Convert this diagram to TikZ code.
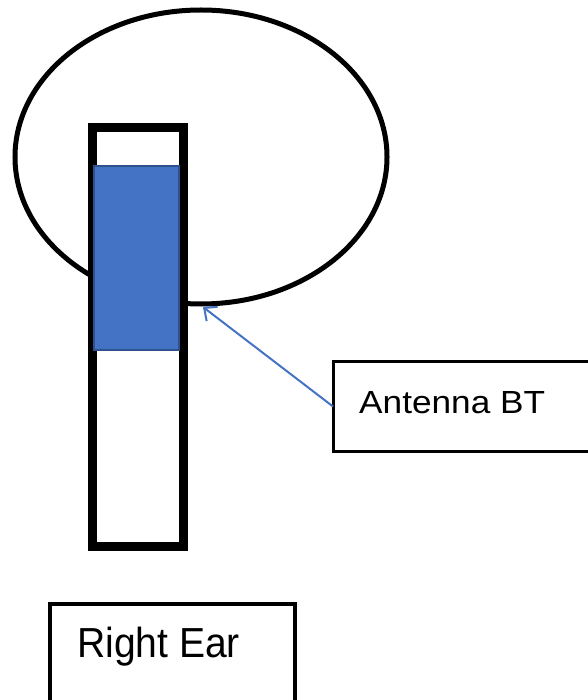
\documentclass[tikz,border=0pt]{standalone}
\usepackage{fontspec}
\setmainfont{Liberation Sans}
\usetikzlibrary{arrows.meta}
\definecolor{accent}{HTML}{4472C4}
\definecolor{accentdark}{HTML}{2F528F}
\tikzset{
  box/.style={draw=black, rectangle, inner sep=0pt, outer sep=0pt},
  label/.style={anchor=base west, inner sep=0pt, text=black},
  pointer/.style={draw=accent, line width=2pt, -{Straight Barb[length=10pt,width=18pt]}}
}
\begin{document}
\begin{tikzpicture}[x=1pt,y=-1pt]
\useasboundingbox (0,0) rectangle (587,700);
% head outline
\draw[line width=5pt] (201,157) ellipse [x radius=186, y radius=147];
% earbud bar
\node[box, line width=9pt, fill=white, minimum width=91pt, minimum height=418.5pt] (bar) at (138,337.25) {};
% antenna area
\node[box, draw=accentdark, fill=accent, line width=1.5pt, minimum width=85pt, minimum height=184pt] (ant) at (136.5,258) {};
% antenna label box
\node[box, line width=3pt, minimum width=287pt, minimum height=90pt] (abox) at (476.5,406.5) {};
\node[label] (atext) at (359,413) {\fontsize{32}{38}\selectfont\scalebox{1.1}[1]{Antenna BT}};
\coordinate (tip) at (203,307);
\draw[pointer] (abox.west) -- (tip);
% right ear box
\node[box, line width=4pt, minimum width=244.5pt, minimum height=116pt] (rbox) at (172.25,662) {};
\node[label] (rtext) at (77,657) {\fontsize{42}{50}\selectfont\scalebox{0.93}[1]{Right Ear}};
\end{tikzpicture}
\end{document}
